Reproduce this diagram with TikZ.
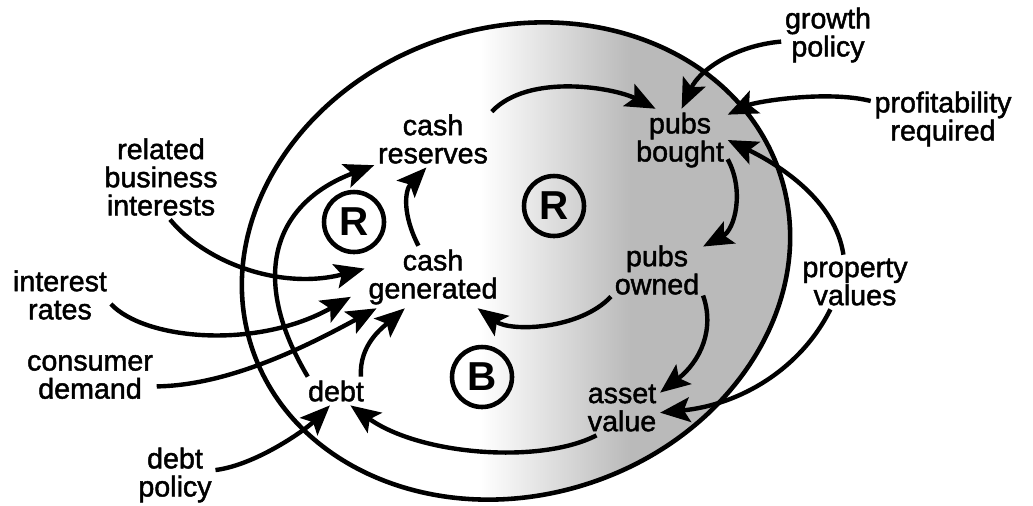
\documentclass[tikz,border=0pt]{standalone}
\usepackage{fontspec}
\setmainfont{Liberation Sans}
\newfontfamily\labelfam{Liberation Sans}[FakeBold=1.6]
\usetikzlibrary{arrows.meta}
\newcommand\labelfont{\labelfam\fontsize{16.3}{16}\selectfont}
\newcommand\markfont{\fontsize{23}{23}\selectfont\bfseries}
\tikzset{
  factor/.style={align=center, inner sep=2pt, font=\labelfont},
  loopmark/.style={circle, draw, line width=2.6pt, minimum size=1.2cm, inner sep=0pt, font=\markfont},
  causal/.style={line width=2.5pt, -{Stealth[length=17pt,width=14pt,inset=3.5pt]}},
}
\begin{document}
\begin{tikzpicture}[x=0.02cm, y=-0.02cm]
      \useasboundingbox (0,0) rectangle (1033,505);
      \begin{scope}
        \clip[rotate around={18:(516,261)}] (516,261) ellipse [x radius=278, y radius=234];
        \shade[left color=white, right color=black!27] (480,0) rectangle (630,505);
        \fill[black!27] (630,0) rectangle (820,505);
      \end{scope}
      \draw[line width=2.6pt, rotate around={18:(516,261)}] (516,261) ellipse [x radius=278, y radius=234];
      \node[factor] (res) at (433,139) {cash\\reserves};
      \node[factor] (gen) at (433,277) {cash\\generated};
      \node[factor] (rel) at (161,177) {related\\business\\interests};
      \node[factor] (int) at (60,295) {interest\\rates};
      \node[factor] (con) at (90,377) {consumer\\demand};
      \node[factor] (debt) at (336,391) {debt};
      \node[factor] (dpol) at (175,475) {debt\\policy};
      \node[factor] (pb) at (680,140) {pubs\\bought};
      \node[factor] (gp) at (828,35) {growth\\policy};
      \node[factor] (pr) at (943,119) {profitability\\required};
      \node[factor] (po) at (657,270) {pubs\\owned};
      \node[factor] (pv) at (855,282) {property\\values};
      \node[factor] (av) at (622,408) {asset\\value};
      \node[loopmark] (r1) at (354,222) {R};
      \node[loopmark] (r2) at (554,206) {R};
      \node[loopmark] (b1) at (482,377) {B};
      \begin{scope}[causal]
        \draw (gen.115) .. controls +(-16,-31) and +(-22,23) .. (res.257);
        \draw (debt.153) .. controls +(-58,-97) and +(-103,39) .. (res.204);
        \draw (rel.282) .. controls +(35,43) and +(-84,22) .. (gen.173);
        \draw[shorten >=9pt] (int.350) .. controls +(34,36) and +(-108,61) .. (gen.190);
        \draw (con.352) .. controls +(73,-1) and +(-68,37) .. (gen.209);
        \draw (debt.30) .. controls +(-2,-32) and +(-22,19) .. (gen.228);
        \draw (po.210) .. controls +(-31,33) and +(33,24) .. (gen.325);
        \draw (av.227) .. controls +(-56,29) and +(70,50) .. (debt.315);
        \draw (dpol.7) .. controls +(40,-5) and +(-25,25) .. (debt.247);
        \draw (res.25) .. controls +(37,-39) and +(-41,-21) .. (pb.128);
        \draw (gp.188) .. controls +(-46,4) and +(18,-39) .. (pb.87);
        \draw (pr.166) .. controls +(-44,-11) and +(28,-13) .. (pb.28);
        \draw (pv.113) .. controls +(-8,-54) and +(52,25) .. (pb.east);
        \draw (pv.228) .. controls +(-30,60) and +(80,-8) .. (av.353);
        \draw (pb.338) .. controls +(17,31) and +(32,-17) .. (po.27);
        \draw (po.331) .. controls +(12,34) and +(40,-31) .. (av.22);
      \end{scope}
    \end{tikzpicture}
\end{document}
